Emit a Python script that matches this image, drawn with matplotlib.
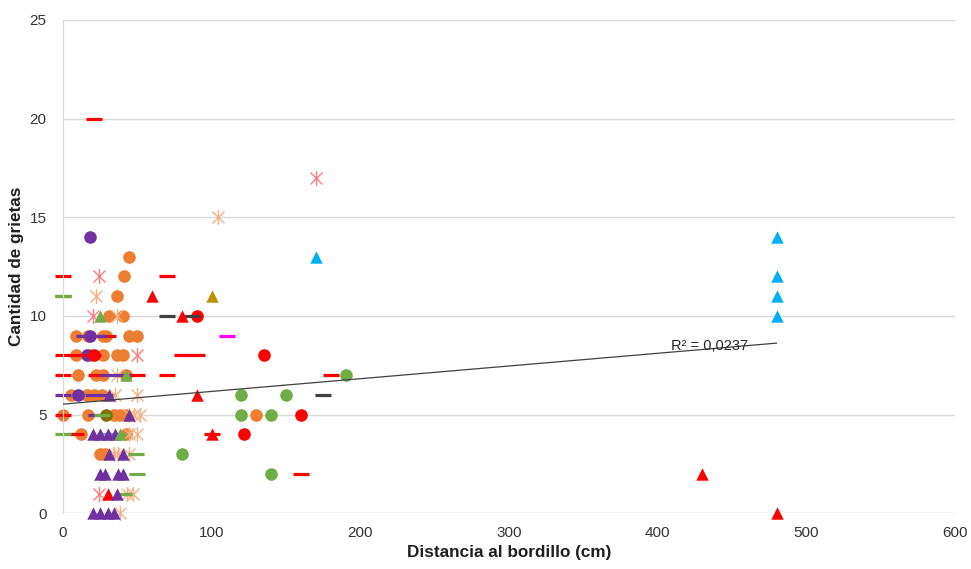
import matplotlib.pyplot as plt
from matplotlib.path import Path

plt.rcParams['font.family'] = ['Liberation Sans', 'DejaVu Sans']

# each series: x values (cm) and y values (number of cracks)
orange_circ_x = [44, 41, 36, 31, 40, 9, 17, 27, 29, 44, 50, 9, 18, 27, 36, 40, 10, 22, 27, 42,
                 5, 16, 21, 26, 0, 17, 34, 38, 42, 12, 42, 25, 28, 130]
orange_circ_y = [13, 12, 11, 10, 10, 9, 9, 9, 9, 9, 9, 8, 8, 8, 8, 8, 7, 7, 7, 7,
                 6, 6, 6, 6, 5, 5, 5, 5, 5, 4, 4, 3, 3, 5]
purple_circ_x = [18, 18, 16, 10]
purple_circ_y = [14, 9, 8, 6]
red_circ_x = [21, 90, 135, 122, 160]
red_circ_y = [8, 10, 8, 4, 5]
green_circ_x = [80, 120, 150, 120, 140, 140, 190]
green_circ_y = [3, 6, 6, 5, 5, 2, 7]
olive_circ_x = [29]
olive_circ_y = [5]

red_dash_x = [21, 0, 70, 0, 0, 9, 20, 80, 90, 0, 22, 50, 70, 180, 30, 0, 9, 160, 100]
red_dash_y = [20, 12, 12, 11, 8, 8, 8, 8, 8, 7, 7, 7, 7, 7, 9, 5, 4, 2, 4]
green_dash_x = [0, 0, 26, 37, 49, 50, 41]
green_dash_y = [11, 4, 5, 4, 3, 2, 1]
purple_dash_x = [0, 14, 24, 20, 28, 22, 30, 40]
purple_dash_y = [6, 9, 9, 6, 6, 5, 7, 7]
gray_dash_x = [70, 87, 175]
gray_dash_y = [10, 10, 6]
magenta_dash_x = [110]
magenta_dash_y = [9]
lblue_dash_x = [28]
lblue_dash_y = [4]

lorange_ast_x = [22, 104, 36, 36, 35, 50, 44, 48, 52, 44, 50, 34, 37, 44, 43, 47, 38]
lorange_ast_y = [11, 15, 10, 7, 6, 6, 5, 5, 5, 4, 4, 3, 3, 3, 1, 1, 0]
lred_ast_x = [20, 24, 50, 170, 24]
lred_ast_y = [10, 12, 8, 17, 1]

red_tri_x = [60, 80, 90, 100, 30, 430, 480]
red_tri_y = [11, 10, 6, 4, 1, 2, 0]
purple_tri_x = [31, 44, 20, 25, 30, 35, 31, 40, 25, 28, 37, 40, 36, 20, 25, 30, 34]
purple_tri_y = [6, 5, 4, 4, 4, 4, 3, 3, 2, 2, 2, 2, 1, 0, 0, 0, 0]
blue_tri_x = [170, 480, 480, 480, 480]
blue_tri_y = [13, 14, 12, 11, 10]
gold_tri_x = [100]
gold_tri_y = [11]
green_tri_x = [25, 42, 38]
green_tri_y = [10, 7, 4]

# linear trend over all points
trend_x = [0, 480]
trend_b = 5.53
trend_m = 0.00644
r2_label = 'R² = 0,0237'

# asterisk: X plus vertical bar
ast = Path([(-1, -1), (1, 1), (-1, 1), (1, -1), (0, -1.25), (0, 1.25)],
           [Path.MOVETO, Path.LINETO, Path.MOVETO, Path.LINETO, Path.MOVETO, Path.LINETO])

fig, ax = plt.subplots(figsize=(9.71, 5.69), dpi=100)
fig.subplots_adjust(left=0.065, right=0.9835, top=0.965, bottom=0.098)

circ = dict(marker='o', s=82, linewidths=0, clip_on=False)
dash = dict(marker='_', s=125, linewidths=2.3, clip_on=False)
star = dict(marker=ast, s=115, linewidths=1.0, clip_on=False)
tri = dict(marker='^', s=80, linewidths=0, clip_on=False)

ax.scatter(orange_circ_x, orange_circ_y, color='#ED7D31', **circ)
ax.scatter(lorange_ast_x, lorange_ast_y, color='#F4B183', **star)
ax.scatter(purple_circ_x, purple_circ_y, color='#7030A0', **circ)
ax.scatter(red_circ_x, red_circ_y, color='#FF0000', **circ)
ax.scatter(green_circ_x, green_circ_y, color='#70AD47', **circ)
ax.scatter(olive_circ_x, olive_circ_y, color='#7F7000', **circ)
ax.scatter(red_dash_x, red_dash_y, color='#FF0000', **dash)
ax.scatter(purple_dash_x, purple_dash_y, color='#7030A0', **dash)
ax.scatter(green_dash_x, green_dash_y, color='#70AD47', **dash)
ax.scatter(gray_dash_x, gray_dash_y, color='#404040', **dash)
ax.scatter(magenta_dash_x, magenta_dash_y, color='#FF00FF', **dash)
ax.scatter(lblue_dash_x, lblue_dash_y, color='#8FAADC', **dash)
ax.scatter(lred_ast_x, lred_ast_y, color='#FF7C80', **star)
ax.scatter(red_tri_x, red_tri_y, color='#FF0000', **tri)
ax.scatter(purple_tri_x, purple_tri_y, color='#7030A0', **tri)
ax.scatter(blue_tri_x, blue_tri_y, color='#00B0F0', **tri)
ax.scatter(gold_tri_x, gold_tri_y, color='#BF9000', **tri)
ax.scatter(green_tri_x, green_tri_y, color='#70AD47', **tri)

ty = [trend_b + trend_m * x for x in trend_x]
ax.plot(trend_x, ty, color='#404040', lw=0.9, zorder=5)
ax.text(409, 8.47, r2_label, fontsize=10.5, color='#262626', va='center', zorder=6)

ax.set_xlim(0, 600)
ax.set_ylim(0, 25)
ax.set_xticks(range(0, 601, 100))
ax.set_yticks(range(0, 26, 5))
ax.grid(axis='y', color='#D9D9D9', lw=1)
ax.set_axisbelow(True)
for s in ['top', 'right', 'bottom']:
    ax.spines[s].set_visible(False)
ax.spines['left'].set_color('#D9D9D9')
ax.tick_params(axis='x', length=0, labelsize=11, labelcolor='#333333', pad=9)
ax.tick_params(axis='y', length=0, labelsize=11, labelcolor='#333333', pad=12)
ax.set_xlabel('Distancia al bordillo (cm)', fontsize=12.3, fontweight='bold', color='#1f1f1f', labelpad=4)
ax.set_ylabel('Cantidad de grietas', fontsize=12.3, fontweight='bold', color='#1f1f1f', labelpad=4)

fig.savefig('out.png', dpi=100)
